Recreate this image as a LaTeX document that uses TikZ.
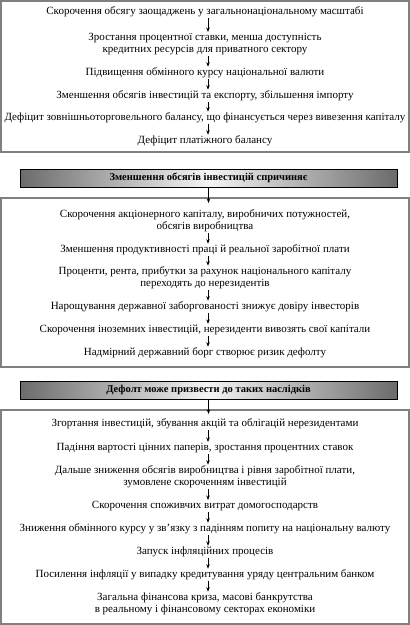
\documentclass[tikz,border=0pt]{standalone}
\usepackage{fontspec}
\setmainfont{Liberation Serif}
\usetikzlibrary{arrows.meta}

\begin{document}
\begin{tikzpicture}[x=1pt,y=-1pt,
  every node/.style={font=\fontsize{11}{12}\selectfont, inner sep=1pt, align=center},
  frame/.style={draw=black!50, line width=2pt},
  headbox/.style={draw=black, line width=0.8pt, minimum width=377pt, minimum height=18pt,
    left color=black!58, right color=black!58, middle color=black!4, font=\fontsize{10.5}{12}\selectfont\bfseries},
  arr/.style={-{Stealth[length=4.5pt,width=3.5pt]}, line width=0.7pt}]
\useasboundingbox (0,0) rectangle (410,625);
\draw[frame] (1,1) rectangle (409,152);
\draw[frame] (1,198) rectangle (409,367);
\draw[frame] (1,410) rectangle (409,624);

\node (b1) at (205,12) {Скорочення обсягу заощаджень у загальнонаціональному масштабі};
\node (b2) at (205,44) {Зростання процентної ставки, менша доступність\\кредитних ресурсів для приватного сектору};
\node (b3) at (205,73) {Підвищення обмінного курсу національної валюти};
\node (b4) at (205,96) {Зменшення обсягів інвестицій та експорту, збільшення імпорту};
\node (b5) at (205,118) {Дефіцит зовнішньоторговельного балансу, що фінансується через вивезення капіталу};
\node (b6) at (205,141) {Дефіцит платіжного балансу};

\node[headbox] (h1) at (208.5,178) {Зменшення обсягів інвестицій спричиняє};
\coordinate (h1end) at (208.5,203);

\node (c1) at (205,221) {Скорочення акціонерного капіталу, виробничих потужностей,\\обсягів виробництва};
\node (c2) at (205,250) {Зменшення продуктивності праці й реальної заробітної плати};
\node (c3) at (205,278) {Проценти, рента, прибутки за рахунок національного капіталу\\переходять до нерезидентів};
\node (c4) at (205,307) {Нарощування державної заборгованості знижує довіру інвесторів};
\node (c5) at (205,330) {Скорочення іноземних інвестицій, нерезиденти вивозять свої капітали};
\node (c6) at (205,353) {Надмірний державний борг створює ризик дефолту};

\node[headbox] (h2) at (208.5,390) {Дефолт може призвести до таких наслідків};
\coordinate (h2end) at (208.5,414);

\node (d1) at (205,424) {Згортання інвестицій, збування акцій та облігацій нерезидентами};
\node (d2) at (205,448) {Падіння вартості цінних паперів, зростання процентних ставок};
\node (d3) at (205,477) {Дальше зниження обсягів виробництва і рівня заробітної плати,\\зумовлене скороченням інвестицій};
\node (d4) at (205,506) {Скорочення споживчих витрат домогосподарств};
\node (d5) at (205,529) {Зниження обмінного курсу у зв’язку з падінням попиту на національну валюту};
\node (d6) at (205,552) {Запуск інфляційних процесів};
\node (d7) at (205,575) {Посилення інфляції у випадку кредитування уряду центральним банком};
\node (d8) at (205,604) {Загальна фінансова криза, масові банкрутства\\в реальному і фінансовому секторах економіки};

\foreach \a/\b in {b1/b2,b2/b3,b3/b4,b4/b5,b5/b6,c1/c2,c2/c3,c3/c4,c4/c5,c5/c6,d1/d2,d2/d3,d3/d4,d4/d5,d5/d6,d6/d7,d7/d8}
  \draw[arr] ([xshift=3pt]\a.south) -- ([xshift=3pt]\b.north);
\draw[arr] (h1) -- (h1end);
\draw[arr] (h2) -- (h2end);
\end{tikzpicture}
\end{document}
